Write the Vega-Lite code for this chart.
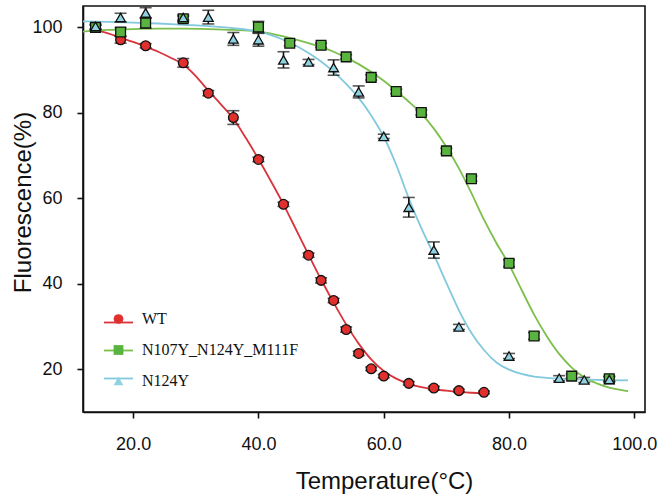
{
  "$schema": "https://vega.github.io/schema/vega-lite/v6.json",
  "autosize": {"type": "none"},
  "padding": {"left": 83, "top": 6, "right": 13, "bottom": 83},
  "width": 562,
  "height": 406,
  "background": "white",
  "datasets": {
    "curves": [
      {"series": "WT", "t": 14, "f": 99.4}, {"series": "WT", "t": 16, "f": 98.6}, {"series": "WT", "t": 18, "f": 97.6},
      {"series": "WT", "t": 20, "f": 96.6}, {"series": "WT", "t": 22, "f": 95.5}, {"series": "WT", "t": 24, "f": 94.3},
      {"series": "WT", "t": 26, "f": 92.9}, {"series": "WT", "t": 28, "f": 91.3}, {"series": "WT", "t": 30, "f": 88.6},
      {"series": "WT", "t": 32, "f": 85.2}, {"series": "WT", "t": 34, "f": 82.0}, {"series": "WT", "t": 36, "f": 78.6},
      {"series": "WT", "t": 38, "f": 74.1}, {"series": "WT", "t": 40, "f": 69.2}, {"series": "WT", "t": 42, "f": 64.0},
      {"series": "WT", "t": 44, "f": 58.6}, {"series": "WT", "t": 46, "f": 52.7}, {"series": "WT", "t": 48, "f": 46.8},
      {"series": "WT", "t": 50, "f": 41.0}, {"series": "WT", "t": 52, "f": 35.6}, {"series": "WT", "t": 54, "f": 30.5},
      {"series": "WT", "t": 56, "f": 26.0}, {"series": "WT", "t": 58, "f": 22.3}, {"series": "WT", "t": 60, "f": 19.6},
      {"series": "WT", "t": 62, "f": 17.8}, {"series": "WT", "t": 64, "f": 16.6}, {"series": "WT", "t": 66, "f": 15.8},
      {"series": "WT", "t": 68, "f": 15.3}, {"series": "WT", "t": 70, "f": 15.0}, {"series": "WT", "t": 72, "f": 14.7},
      {"series": "WT", "t": 74, "f": 14.5}, {"series": "WT", "t": 76, "f": 14.4},

      {"series": "N107Y_N124Y_M111F", "t": 12, "f": 99.0}, {"series": "N107Y_N124Y_M111F", "t": 16, "f": 99.4},
      {"series": "N107Y_N124Y_M111F", "t": 20, "f": 99.6}, {"series": "N107Y_N124Y_M111F", "t": 24, "f": 99.7},
      {"series": "N107Y_N124Y_M111F", "t": 28, "f": 99.7}, {"series": "N107Y_N124Y_M111F", "t": 32, "f": 99.6},
      {"series": "N107Y_N124Y_M111F", "t": 36, "f": 99.4}, {"series": "N107Y_N124Y_M111F", "t": 40, "f": 99.0},
      {"series": "N107Y_N124Y_M111F", "t": 44, "f": 97.9}, {"series": "N107Y_N124Y_M111F", "t": 48, "f": 96.3},
      {"series": "N107Y_N124Y_M111F", "t": 52, "f": 94.3}, {"series": "N107Y_N124Y_M111F", "t": 56, "f": 91.4},
      {"series": "N107Y_N124Y_M111F", "t": 60, "f": 87.5}, {"series": "N107Y_N124Y_M111F", "t": 62, "f": 85.1},
      {"series": "N107Y_N124Y_M111F", "t": 64, "f": 82.6}, {"series": "N107Y_N124Y_M111F", "t": 66, "f": 79.8},
      {"series": "N107Y_N124Y_M111F", "t": 68, "f": 76.3}, {"series": "N107Y_N124Y_M111F", "t": 70, "f": 72.0},
      {"series": "N107Y_N124Y_M111F", "t": 72, "f": 67.0}, {"series": "N107Y_N124Y_M111F", "t": 74, "f": 61.2},
      {"series": "N107Y_N124Y_M111F", "t": 76, "f": 55.0}, {"series": "N107Y_N124Y_M111F", "t": 78, "f": 49.5},
      {"series": "N107Y_N124Y_M111F", "t": 80, "f": 44.5}, {"series": "N107Y_N124Y_M111F", "t": 82, "f": 38.6},
      {"series": "N107Y_N124Y_M111F", "t": 84, "f": 32.8}, {"series": "N107Y_N124Y_M111F", "t": 86, "f": 27.8},
      {"series": "N107Y_N124Y_M111F", "t": 88, "f": 23.6}, {"series": "N107Y_N124Y_M111F", "t": 90, "f": 20.4},
      {"series": "N107Y_N124Y_M111F", "t": 92, "f": 18.1}, {"series": "N107Y_N124Y_M111F", "t": 94, "f": 16.7},
      {"series": "N107Y_N124Y_M111F", "t": 96, "f": 15.7}, {"series": "N107Y_N124Y_M111F", "t": 98, "f": 15.1},
      {"series": "N107Y_N124Y_M111F", "t": 99, "f": 14.9},

      {"series": "N124Y", "t": 12, "f": 101.4}, {"series": "N124Y", "t": 16, "f": 101.3}, {"series": "N124Y", "t": 20, "f": 101.1},
      {"series": "N124Y", "t": 24, "f": 100.9}, {"series": "N124Y", "t": 28, "f": 100.6}, {"series": "N124Y", "t": 32, "f": 100.3},
      {"series": "N124Y", "t": 36, "f": 99.8}, {"series": "N124Y", "t": 40, "f": 99.0}, {"series": "N124Y", "t": 42, "f": 98.2},
      {"series": "N124Y", "t": 44, "f": 97.1}, {"series": "N124Y", "t": 46, "f": 95.7}, {"series": "N124Y", "t": 48, "f": 94.0},
      {"series": "N124Y", "t": 50, "f": 92.0}, {"series": "N124Y", "t": 52, "f": 89.6}, {"series": "N124Y", "t": 54, "f": 86.8},
      {"series": "N124Y", "t": 56, "f": 83.5}, {"series": "N124Y", "t": 58, "f": 79.4}, {"series": "N124Y", "t": 60, "f": 74.4},
      {"series": "N124Y", "t": 62, "f": 67.8}, {"series": "N124Y", "t": 64, "f": 60.0}, {"series": "N124Y", "t": 66, "f": 53.0},
      {"series": "N124Y", "t": 68, "f": 46.8}, {"series": "N124Y", "t": 70, "f": 40.2}, {"series": "N124Y", "t": 72, "f": 33.8},
      {"series": "N124Y", "t": 74, "f": 28.5}, {"series": "N124Y", "t": 76, "f": 24.5}, {"series": "N124Y", "t": 78, "f": 21.6},
      {"series": "N124Y", "t": 80, "f": 19.9}, {"series": "N124Y", "t": 82, "f": 18.9}, {"series": "N124Y", "t": 84, "f": 18.3},
      {"series": "N124Y", "t": 86, "f": 18.0}, {"series": "N124Y", "t": 88, "f": 17.8}, {"series": "N124Y", "t": 90, "f": 17.7},
      {"series": "N124Y", "t": 94, "f": 17.5}, {"series": "N124Y", "t": 99, "f": 17.4}
    ],
    "points": [
      {"series": "WT", "t": 14, "f": 100.0, "err": 0.5}, {"series": "WT", "t": 18, "f": 97.1, "err": 0.8},
      {"series": "WT", "t": 22, "f": 95.7, "err": 0.5}, {"series": "WT", "t": 28, "f": 91.7, "err": 1.0},
      {"series": "WT", "t": 32, "f": 84.6, "err": 0.6}, {"series": "WT", "t": 36, "f": 78.9, "err": 1.6},
      {"series": "WT", "t": 40, "f": 69.1, "err": 0.5}, {"series": "WT", "t": 44, "f": 58.6, "err": 0.5},
      {"series": "WT", "t": 48, "f": 46.7, "err": 0.5}, {"series": "WT", "t": 50, "f": 40.8, "err": 0.6},
      {"series": "WT", "t": 52, "f": 36.1, "err": 0.5}, {"series": "WT", "t": 54, "f": 29.3, "err": 0.6},
      {"series": "WT", "t": 56, "f": 23.7, "err": 0.5}, {"series": "WT", "t": 58, "f": 20.1, "err": 0.4},
      {"series": "WT", "t": 60, "f": 18.4, "err": 0.4}, {"series": "WT", "t": 64, "f": 16.7, "err": 0.4},
      {"series": "WT", "t": 68, "f": 15.6, "err": 0.4}, {"series": "WT", "t": 72, "f": 15.0, "err": 0.3},
      {"series": "WT", "t": 76, "f": 14.6, "err": 0.3},

      {"series": "N107Y_N124Y_M111F", "t": 14, "f": 100.0, "err": 0.5}, {"series": "N107Y_N124Y_M111F", "t": 18, "f": 98.9, "err": 1.0},
      {"series": "N107Y_N124Y_M111F", "t": 22, "f": 101.0, "err": 1.2}, {"series": "N107Y_N124Y_M111F", "t": 28, "f": 102.0, "err": 0.6},
      {"series": "N107Y_N124Y_M111F", "t": 40, "f": 100.1, "err": 1.3}, {"series": "N107Y_N124Y_M111F", "t": 45, "f": 96.3, "err": 0.6},
      {"series": "N107Y_N124Y_M111F", "t": 50, "f": 95.8, "err": 0.5}, {"series": "N107Y_N124Y_M111F", "t": 54, "f": 93.1, "err": 0.5},
      {"series": "N107Y_N124Y_M111F", "t": 58, "f": 88.3, "err": 0.6}, {"series": "N107Y_N124Y_M111F", "t": 62, "f": 85.0, "err": 0.5},
      {"series": "N107Y_N124Y_M111F", "t": 66, "f": 80.1, "err": 0.6}, {"series": "N107Y_N124Y_M111F", "t": 70, "f": 71.1, "err": 0.6},
      {"series": "N107Y_N124Y_M111F", "t": 74, "f": 64.6, "err": 0.6}, {"series": "N107Y_N124Y_M111F", "t": 80, "f": 44.8, "err": 0.8},
      {"series": "N107Y_N124Y_M111F", "t": 84, "f": 27.8, "err": 0.8}, {"series": "N107Y_N124Y_M111F", "t": 90, "f": 18.4, "err": 0.5},
      {"series": "N107Y_N124Y_M111F", "t": 96, "f": 17.8, "err": 0.6},

      {"series": "N124Y", "t": 14, "f": 100.2, "err": 0.6}, {"series": "N124Y", "t": 18, "f": 102.3, "err": 1.0},
      {"series": "N124Y", "t": 22, "f": 103.4, "err": 1.2}, {"series": "N124Y", "t": 28, "f": 102.3, "err": 0.6},
      {"series": "N124Y", "t": 32, "f": 102.4, "err": 1.6}, {"series": "N124Y", "t": 36, "f": 97.3, "err": 1.5},
      {"series": "N124Y", "t": 40, "f": 97.1, "err": 1.5}, {"series": "N124Y", "t": 44, "f": 92.4, "err": 1.9},
      {"series": "N124Y", "t": 48, "f": 91.9, "err": 0.6}, {"series": "N124Y", "t": 52, "f": 90.6, "err": 1.8},
      {"series": "N124Y", "t": 56, "f": 84.9, "err": 1.4}, {"series": "N124Y", "t": 60, "f": 74.5, "err": 0.5},
      {"series": "N124Y", "t": 64, "f": 57.9, "err": 2.3}, {"series": "N124Y", "t": 68, "f": 47.9, "err": 1.9},
      {"series": "N124Y", "t": 72, "f": 29.9, "err": 0.6}, {"series": "N124Y", "t": 80, "f": 23.1, "err": 0.6},
      {"series": "N124Y", "t": 88, "f": 17.9, "err": 0.6}, {"series": "N124Y", "t": 92, "f": 17.5, "err": 0.6},
      {"series": "N124Y", "t": 96, "f": 17.6, "err": 0.6}
    ]
  },
  "config": {
    "view": {"stroke": "#111", "strokeWidth": 1.6},
    "axis": {
      "grid": false,
      "domainColor": "#111",
      "domainWidth": 1.6,
      "tickColor": "#111",
      "tickWidth": 1.6,
      "tickSize": 6,
      "labelFont": "Liberation Sans",
      "labelFontSize": 18,
      "labelColor": "#111",
      "titleFont": "Liberation Sans",
      "titleFontSize": 24,
      "titleFontWeight": "normal",
      "titleColor": "#111"
    },
    "legend": {
      "title": null,
      "orient": "none",
      "legendX": 27.5,
      "legendY": 305,
      "labelFont": "Liberation Serif",
      "labelFontSize": 16,
      "labelColor": "#111",
      "labelOffset": 15.5,
      "padding": 0,
      "rowPadding": 15,
      "symbolStrokeColor": "#111",
      "symbolStrokeWidth": 1.3,
      "symbolSize": 95,
      "symbolOpacity": 1,
      "zindex": 1
    }
  },
  "encoding": {
    "x": {
      "field": "t",
      "type": "quantitative",
      "scale": {"domain": [12, 101.7], "nice": false, "zero": false},
      "axis": {
        "values": [20, 40, 60, 80, 100],
        "format": ".1f",
        "labelPadding": 17,
        "title": "Temperature(°C)",
        "titleX": 301,
        "titleY": 76,
        "titleBaseline": "alphabetic"
      }
    },
    "y": {
      "field": "f",
      "type": "quantitative",
      "scale": {"domain": [10, 105], "nice": false, "zero": false},
      "axis": {
        "values": [20, 40, 60, 80, 100],
        "labelPadding": 15,
        "title": "Fluorescence(%)",
        "titleX": -53,
        "titleY": 196,
        "titleAngle": -90,
        "titleAlign": "center",
        "titleBaseline": "alphabetic"
      }
    }
  },
  "layer": [
    {
      "data": {"name": "curves"},
      "mark": {"type": "line", "strokeWidth": 1.8, "interpolate": "monotone"},
      "encoding": {
        "stroke": {
          "field": "series",
          "type": "nominal",
          "sort": ["WT", "N107Y_N124Y_M111F", "N124Y"],
          "scale": {"range": ["#d8343c", "#7cbf4c", "#82c9dd"]},
          "legend": {
            "title": null,
            "orient": "none",
            "legendX": 20,
            "legendY": 301,
            "symbolType": "stroke",
            "symbolSize": 841,
            "symbolStrokeWidth": 1.8,
            "labelExpr": "''",
            "labelOffset": 7,
            "rowPadding": 4,
            "zindex": 0
          }
        }
      }
    },
    {
      "data": {"name": "points"},
      "mark": {"type": "errorbar", "ticks": {"size": 12, "thickness": 1.6}, "thickness": 1.6, "color": "#111"},
      "encoding": {
        "yError": {"field": "err"}
      }
    },
    {
      "data": {"name": "points"},
      "mark": {"type": "point", "filled": true, "opacity": 1, "stroke": "#111", "strokeWidth": 1.3, "size": 95},
      "encoding": {
        "color": {
          "field": "series",
          "type": "nominal",
          "scale": {"domain": ["WT", "N107Y_N124Y_M111F", "N124Y"], "range": ["#e0302e", "#58b43f", "#8fd3e3"]}
        },
        "shape": {
          "field": "series",
          "type": "nominal",
          "scale": {"domain": ["WT", "N107Y_N124Y_M111F", "N124Y"], "range": ["circle", "square", "triangle-up"]}
        }
      }
    }
  ]
}
